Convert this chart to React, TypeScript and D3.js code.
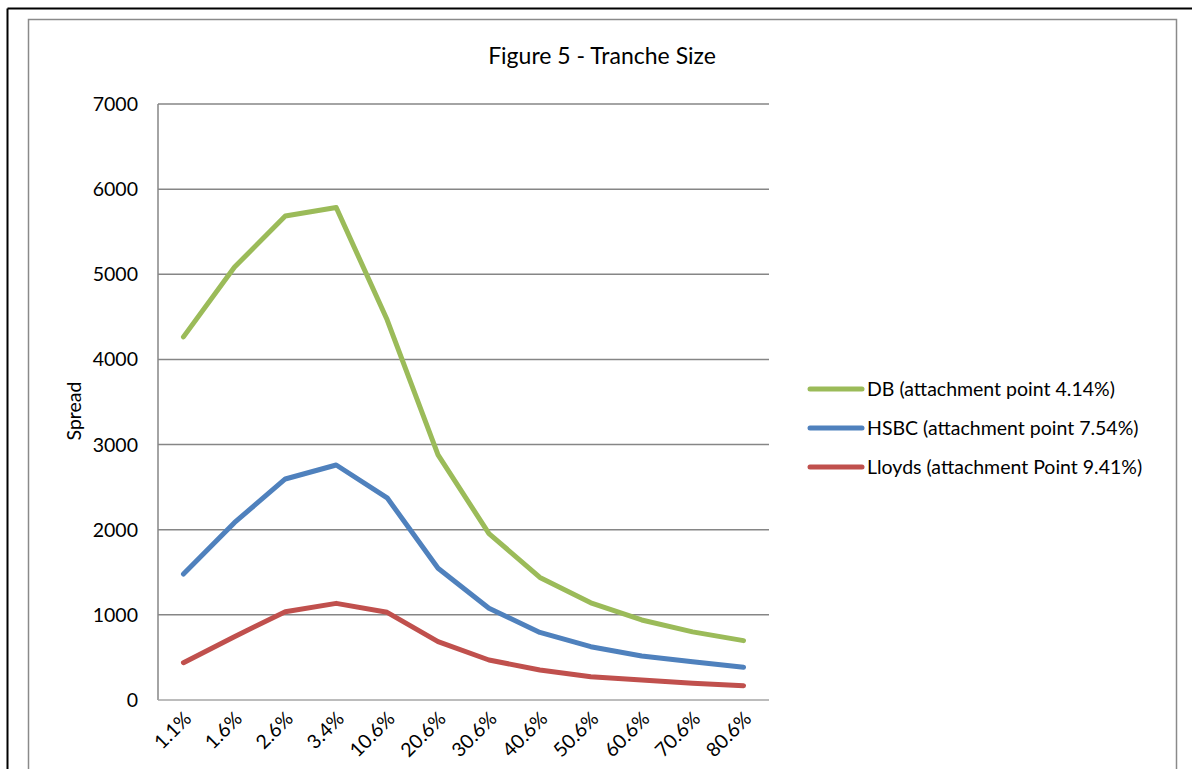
import React from "react";
import * as d3 from "d3";

const categories = ["1.1%", "1.6%", "2.6%", "3.4%", "10.6%", "20.6%", "30.6%", "40.6%", "50.6%", "60.6%", "70.6%", "80.6%"];
const dbValues = [4265, 5082, 5685, 5785, 4465, 2878, 1955, 1440, 1142, 940, 800, 697];
const hsbcValues = [1480, 2083, 2596, 2760, 2375, 1547, 1077, 794, 626, 517, 450, 384];
const lloydsValues = [438, 744, 1037, 1135, 1030, 685, 470, 352, 274, 235, 196, 168];
const yTicks = [0, 1000, 2000, 3000, 4000, 5000, 6000, 7000];
const seriesNames = ["DB (attachment point 4.14%)", "HSBC (attachment point 7.54%)", "Lloyds (attachment Point 9.41%)"];
const seriesColors = ["#9BBB59", "#4F81BD", "#C0504D"];

export default function App() {
  const W = 1192, H = 769;
  const left = 158, right = 769, top = 104, bottom = 700;
  const x = d3.scaleBand<string>().domain(categories).range([left, right]);
  const y = d3.scaleLinear().domain([0, 7000]).range([bottom, top]);
  const line = d3.line<number>()
    .x((_, i) => (x(categories[i]) as number) + x.bandwidth() / 2)
    .y((d) => y(d));
  const series = [dbValues, hsbcValues, lloydsValues];
  const font = "Lato, 'Open Sans', sans-serif";
  return (
    <svg width={W} height={H} style={{ position: "absolute", left: 0, top: 0, background: "#fff" }} fontFamily={font}>
      <rect x={0} y={0} width={W} height={H} fill="#fff" />
      <line x1={7.5} y1={8.5} x2={W} y2={8.5} stroke="#000" strokeWidth={2} />
      <line x1={7.5} y1={8.5} x2={7.5} y2={H} stroke="#000" strokeWidth={2} />
      <path d={`M28.5,${H} V19.5 H1176.5 V${H}`} fill="none" stroke="#8a8a8a" strokeWidth={1.5} />
      <text x={602} y={64} textAnchor="middle" fontSize={23} fill="#000">Figure 5 - Tranche Size</text>
      {yTicks.map((t) => (
        <g key={t}>
          {t > 0 && <line x1={left} x2={right} y1={y(t)} y2={y(t)} stroke="#868686" strokeWidth={1.5} />}
          <text x={138} y={y(t) + 7} textAnchor="end" fontSize={19.5} fill="#000">{t}</text>
        </g>
      ))}
      <line x1={left} x2={left} y1={top} y2={bottom} stroke="#868686" strokeWidth={1.5} />
      <line x1={left} x2={right} y1={bottom} y2={bottom} stroke="#a6a6a6" strokeWidth={1.5} />
      <text transform={`translate(81,411) rotate(-90)`} textAnchor="middle" fontSize={19.5} fill="#000">Spread</text>
      {categories.map((c) => {
        const cx = (x(c) as number) + x.bandwidth() / 2;
        return (
          <text key={c} transform={`translate(${cx + 9},${720}) rotate(-45)`} textAnchor="end" fontSize={19.5} fill="#000">{c}</text>
        );
      })}
      {series.map((s, i) => (
        <path key={i} d={line(s) || ""} fill="none" stroke={seriesColors[i]} strokeWidth={5} strokeLinecap="round" strokeLinejoin="round" />
      ))}
      {seriesNames.map((n, i) => (
        <g key={n}>
          <line x1={810} x2={862} y1={389 + i * 39} y2={389 + i * 39} stroke={seriesColors[i]} strokeWidth={5} strokeLinecap="round" />
          <text x={867} y={396 + i * 39} fontSize={19.5} fill="#000">{n}</text>
        </g>
      ))}
    </svg>
  );
}
